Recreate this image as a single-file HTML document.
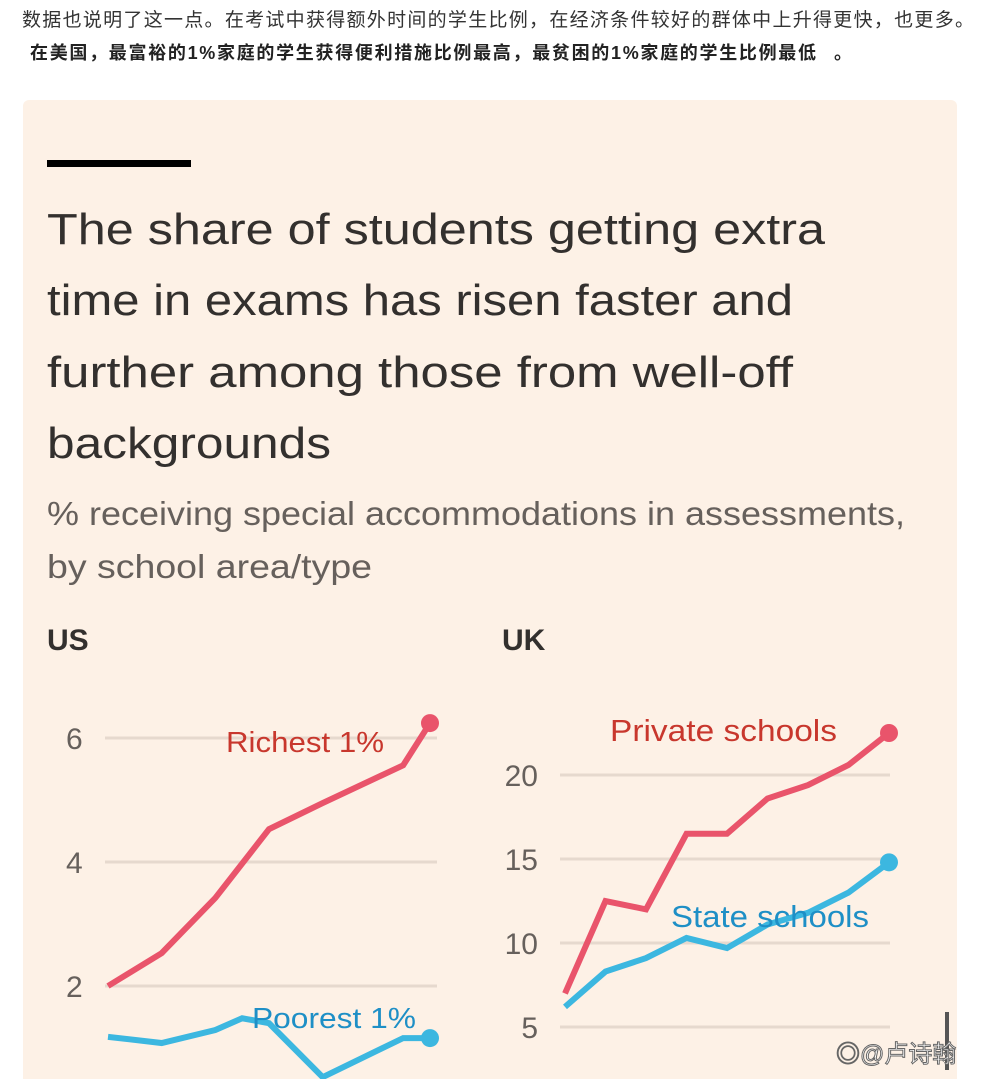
<!DOCTYPE html>
<html><head><meta charset="utf-8"><style>
html,body{margin:0;padding:0;background:#fff;width:985px;height:1079px;overflow:hidden}
svg{display:block}
text{font-family:"Liberation Sans","Noto Sans CJK SC",sans-serif}
</style></head><body>
<svg id="s" width="985" height="1079" viewBox="0 0 985 1079">
<text x="22" y="26" font-size="19" fill="#333" textLength="952">数据也说明了这一点。在考试中获得额外时间的学生比例，在经济条件较好的群体中上升得更快，也更多。</text>
<text x="30" y="59" font-size="18" font-weight="bold" fill="#222" textLength="786">在美国，最富裕的1%家庭的学生获得便利措施比例最高，最贫困的1%家庭的学生比例最低</text>
<text x="834" y="59" font-size="18" font-weight="bold" fill="#222">。</text>
<rect x="23" y="100" width="934" height="990" rx="6" fill="#fdf1e6"/>
<rect x="47" y="160" width="144" height="7" fill="#000"/>
<g fill="#33302e" font-size="44">
<text x="47" y="244" textLength="778" lengthAdjust="spacingAndGlyphs">The share of students getting extra</text>
<text x="47" y="315" textLength="746" lengthAdjust="spacingAndGlyphs">time in exams has risen faster and</text>
<text x="47" y="387" textLength="746" lengthAdjust="spacingAndGlyphs">further among those from well-off</text>
<text x="47" y="458" textLength="284" lengthAdjust="spacingAndGlyphs">backgrounds</text>
</g>
<g fill="#66605c" font-size="33">
<text x="47" y="525" textLength="858" lengthAdjust="spacingAndGlyphs">% receiving special accommodations in assessments,</text>
<text x="47" y="578" textLength="325" lengthAdjust="spacingAndGlyphs">by school area/type</text>
</g>
<text x="47" y="650" font-size="30" font-weight="bold" fill="#33302e">US</text>
<text x="502" y="650" font-size="30" font-weight="bold" fill="#33302e">UK</text>
<g id="g"></g>
<text x="226" y="752" font-size="29" fill="#c8372d" textLength="158" lengthAdjust="spacingAndGlyphs">Richest 1%</text>
<text x="252" y="1028" font-size="29" fill="#1e8fc6" textLength="164" lengthAdjust="spacingAndGlyphs">Poorest 1%</text>
<text x="610" y="741" font-size="31" fill="#c8372d" textLength="227" lengthAdjust="spacingAndGlyphs">Private schools</text>
<text x="671" y="927" font-size="31" fill="#1e8fc6" textLength="198" lengthAdjust="spacingAndGlyphs">State schools</text>
<rect x="945" y="1012" width="4" height="58" fill="#555"/>
<text x="836" y="1062" font-size="24" fill="#fff" stroke="#666" stroke-width="1">◎@卢诗翰</text>
</svg>
<script>
const usYears=[2000,2002,2004,2006,2008,2011,2012];
const usRichest=[2.0,2.53,3.42,4.53,4.95,5.56,6.24];
const usPoorYears=[2000,2002,2004,2005,2006,2008,2011,2012];
const usPoorest=[1.18,1.08,1.29,1.48,1.40,0.53,1.16,1.16];
const usTicks=[2,4,6];
const ukYears=[0,1,2,3,4,5,6,7,8];
const ukPrivate=[7.0,12.5,12.0,16.5,16.5,18.6,19.4,20.6,22.5];
const ukState=[6.2,8.3,9.1,10.3,9.7,11.1,11.8,13.0,14.8];
const ukTicks=[5,10,15,20];
const NS='http://www.w3.org/2000/svg';
const g=document.getElementById('g');
function mk(t,a){const e=document.createElementNS(NS,t);for(const k in a)e.setAttribute(k,a[k]);g.appendChild(e);return e;}
const usX=v=>108+(v-2000)*(430-108)/12, usY=v=>986-(v-2)*62;
const ukX=v=>565+v*(889-565)/8, ukY=v=>775-(v-20)*16.8;
usTicks.forEach(t=>{
 const l=mk('line',{x1:105,x2:437,y1:usY(t),y2:usY(t),stroke:'#e6d9ce','stroke-width':3});
 
 
 const tx=mk('text',{x:66,y:usY(t)+11,'font-size':30,fill:'#66605c'});tx.textContent=t;
 
 
});
ukTicks.forEach(t=>{
 const l=mk('line',{x1:560,x2:890,y1:ukY(t),y2:ukY(t),stroke:'#e6d9ce','stroke-width':3});
 
 
 const tx=mk('text',{x:538,y:ukY(t)+11,'font-size':30,fill:'#66605c','text-anchor':'end'});tx.textContent=t;
 
 
});
function line(xs,ys,fx,fy,col,name){
 const d=xs.map((x,i)=>(i?'L':'M')+fx(x)+','+fy(ys[i])).join('');
 const p=mk('path',{d:d,fill:'none',stroke:col,'stroke-width':6,'stroke-linejoin':'miter'});
 
 
 const n=xs.length-1;
 const c=mk('circle',{cx:fx(xs[n]),cy:fy(ys[n]),r:9,fill:col});
 
 
}
line(usYears,usRichest,usX,usY,'#e9546b','us-richest');
line(usPoorYears,usPoorest,usX,usY,'#3cb7e0','us-poorest');
line(ukYears,ukPrivate,ukX,ukY,'#e9546b','uk-private');
line(ukYears,ukState,ukX,ukY,'#3cb7e0','uk-state');
</script>
</body></html>
